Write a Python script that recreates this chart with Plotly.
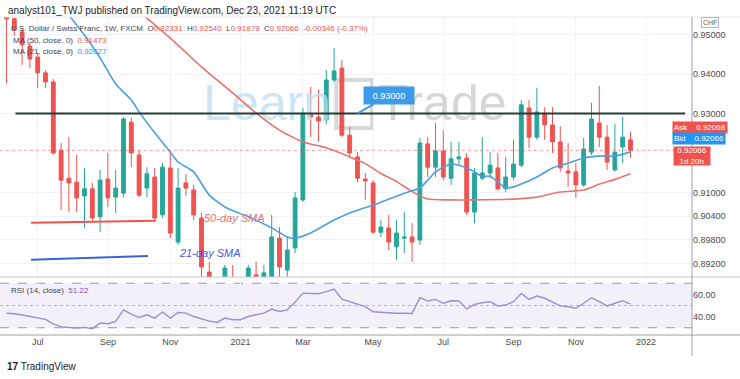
import plotly.graph_objects as go
import pandas as pd

# ---------------- data ----------------
first_week = "2020-06-08"
n_weeks = 81

open_ = [0.9575, 0.9540, 0.9507, 0.9471, 0.9443, 0.9403, 0.9380, 0.9207, 0.9136, 0.9126,
         0.9091, 0.9109, 0.9038, 0.9134, 0.9088, 0.9098, 0.9278, 0.9195, 0.9111, 0.9139,
         0.9043, 0.9162, 0.8974, 0.9124, 0.9106, 0.9035, 0.8898, 0.8865, 0.8832, 0.8878,
         0.8847, 0.8847, 0.8891, 0.8865, 0.8880, 0.8984, 0.8903, 0.8959, 0.9081, 0.9299,
         0.9291, 0.9284, 0.9385, 0.9415, 0.9245, 0.9190, 0.9134, 0.9124, 0.8999, 0.9010,
         0.8962, 0.8984, 0.8987, 0.8979, 0.9223, 0.9164, 0.9205, 0.9136, 0.9185, 0.9187,
         0.9050, 0.9136, 0.9149, 0.9162, 0.9109, 0.9139, 0.9169, 0.9314, 0.9240, 0.9301,
         0.9271, 0.9228, 0.9154, 0.9152, 0.9119, 0.9202, 0.9276, 0.9240, 0.9157, 0.9215,
         0.92331]
high_ = [0.9600, 0.9547, 0.9517, 0.9481, 0.9453, 0.9410, 0.9387, 0.9225, 0.9240, 0.9195,
         0.9162, 0.9124, 0.9157, 0.9200, 0.9157, 0.9291, 0.9289, 0.9207, 0.9164, 0.9162,
         0.9174, 0.9200, 0.9162, 0.9147, 0.9119, 0.9048, 0.8924, 0.8878, 0.8916, 0.8916,
         0.8870, 0.8916, 0.8924, 0.8916, 0.9043, 0.9012, 0.8987, 0.9101, 0.9314, 0.9367,
         0.9360, 0.9410, 0.9466, 0.9436, 0.9266, 0.9202, 0.9149, 0.9131, 0.9030, 0.9043,
         0.9030, 0.9050, 0.9022, 0.9238, 0.9240, 0.9276, 0.9258, 0.9228, 0.9228, 0.9200,
         0.9162, 0.9240, 0.9202, 0.9200, 0.9190, 0.9233, 0.9334, 0.9334, 0.9365, 0.9316,
         0.9316, 0.9268, 0.9225, 0.9174, 0.9238, 0.9327, 0.9370, 0.9271, 0.9273, 0.9291,
         0.92540]
low_ = [0.9377, 0.9496, 0.9423, 0.9415, 0.9365, 0.9365, 0.9195, 0.9055, 0.9050, 0.9050,
        0.9010, 0.9025, 0.8999, 0.9063, 0.9048, 0.9088, 0.9164, 0.9088, 0.9088, 0.9030,
        0.9035, 0.8984, 0.8967, 0.9091, 0.9030, 0.8885, 0.8827, 0.8776, 0.8815, 0.8827,
        0.8802, 0.8827, 0.8852, 0.8840, 0.8865, 0.8873, 0.8878, 0.8946, 0.9076, 0.9240,
        0.9228, 0.9273, 0.9380, 0.9240, 0.9187, 0.9126, 0.9081, 0.8995, 0.8987, 0.8954,
        0.8929, 0.8946, 0.8924, 0.8967, 0.9139, 0.9139, 0.9131, 0.9119, 0.9169, 0.9043,
        0.9022, 0.9131, 0.9136, 0.9104, 0.9101, 0.9131, 0.9164, 0.9213, 0.9233, 0.9233,
        0.9200, 0.9152, 0.9114, 0.9086, 0.9114, 0.9195, 0.9215, 0.9157, 0.9152, 0.9174,
        0.91879]
close_ = [0.9540, 0.9512, 0.9474, 0.9438, 0.9403, 0.9380, 0.9200, 0.9131, 0.9124, 0.9086,
          0.9109, 0.9035, 0.9131, 0.9086, 0.9111, 0.9286, 0.9200, 0.9093, 0.9147, 0.9035,
          0.9164, 0.8997, 0.9111, 0.9111, 0.9043, 0.8911, 0.8865, 0.8827, 0.8908, 0.8847,
          0.8852, 0.8908, 0.8878, 0.8896, 0.8987, 0.8911, 0.8954, 0.9086, 0.9301, 0.9291,
          0.9281, 0.9385, 0.9408, 0.9245, 0.9200, 0.9136, 0.9129, 0.8999, 0.9012, 0.8974,
          0.8997, 0.8987, 0.8974, 0.9225, 0.9164, 0.9205, 0.9139, 0.9185, 0.9190, 0.9050,
          0.9149, 0.9149, 0.9169, 0.9109, 0.9139, 0.9172, 0.9322, 0.9240, 0.9304, 0.9271,
          0.9228, 0.9162, 0.9149, 0.9119, 0.9210, 0.9286, 0.9240, 0.9177, 0.9202, 0.9240,
          0.92066]

rsi_ = [43.0, 42.6, 41.5, 40.1, 39.2, 37.5, 33.5, 30.8, 30.2, 29.8,
        30.3, 29.1, 34.2, 33.6, 35.7, 46.1, 42.3, 39.2, 41.7, 38.7,
        44.1, 38.7, 43.7, 43.2, 40.1, 37.8, 36.0, 34.8, 38.7, 37.2,
        37.2, 40.1, 41.7, 43.2, 46.8, 44.6, 46.1, 53.0, 61.1, 60.9,
        60.5, 62.5, 64.7, 55.7, 53.6, 51.2, 49.0, 44.4, 43.9, 43.0,
        43.0, 43.0, 42.8, 57.0, 54.0, 55.5, 52.0, 54.3, 54.0, 46.9,
        51.0, 52.5, 53.4, 49.6, 50.4, 53.4, 60.9, 55.5, 58.5, 56.5,
        53.4, 49.6, 48.9, 47.5, 52.0, 57.0, 53.4, 49.6, 52.0, 54.3,
        51.22]

sma21_week = [7, 8, 10, 12, 14, 16, 17, 19, 21, 22, 24, 26, 28, 31, 34, 36, 37, 39, 42, 44,
              47, 51, 53, 54, 55, 56, 57, 58, 59, 60, 61, 62, 63, 64, 65, 66, 68, 70, 72,
              74, 76, 78, 80]
sma21_val = [0.9585, 0.9550, 0.9499, 0.9441, 0.9375, 0.9334, 0.9304, 0.9251, 0.9202, 0.9177,
             0.9152, 0.9093, 0.9063, 0.9038, 0.9010, 0.8987, 0.8984, 0.8997, 0.9030, 0.9048,
             0.9068, 0.9098, 0.9111, 0.9131, 0.9152, 0.9164, 0.9172, 0.9169, 0.9162, 0.9152,
             0.9141, 0.9141, 0.9126, 0.9111, 0.9114, 0.9121, 0.9139, 0.9162, 0.9174,
             0.9187, 0.9192, 0.9192, 0.92027]

sma50_week = [16, 18, 21, 25, 29, 32, 35, 38, 41, 44, 46, 48, 50, 52, 54, 57, 60, 65, 68,
              71, 74, 76, 78, 80]
sma50_val = [0.9575, 0.9542, 0.9491, 0.9418, 0.9352, 0.9301, 0.9258, 0.9228, 0.9213, 0.9190,
             0.9173, 0.9148, 0.9128, 0.9102, 0.9083, 0.9081, 0.9081, 0.9083, 0.9088,
             0.9101, 0.9106, 0.9121, 0.9133, 0.91473]

month_tick_dates = ["2020-07-06", "2020-09-07", "2020-11-02", "2021-01-04", "2021-03-01",
                    "2021-05-03", "2021-07-05", "2021-09-06", "2021-11-01", "2022-01-03"]
month_tick_text = ["Jul", "Sep", "Nov", "2021", "Mar", "May", "Jul", "Sep", "Nov", "2022"]
price_ticks = [0.95, 0.94, 0.93, 0.91, 0.904, 0.898, 0.892]
rsi_ticks = [40, 60]

level_price = 0.93
last_price = 0.92066
ask_price = "0.92068"
bid_price = "0.92066"

# ---------------- layout constants ----------------
W, H = 740, 379
PLOT_R = 692            # right edge of panes (px)
MAIN_TOP, MAIN_BOT = 17, 277
RSI_TOP, RSI_BOT = 278, 335
x_range = ["2020-06-02 04:00", "2022-02-13 05:00"]
main_range = [0.88855, 0.95446]
rsi_range = [23.5, 74.7]

FONT = "Liberation Sans, Arial, sans-serif"
GREEN = "#26a69a"
RED = "#ef5350"
BLUE = "#2196f3"


def px(x):
    return x / W


def py(y):
    return 1 - y / H


dates = pd.date_range(first_week, periods=n_weeks, freq="7D")
sma21_dates = [dates[i] for i in sma21_week]
sma50_dates = [dates[i] for i in sma50_week]

fig = go.Figure()

# watermark (drawn first so it stays beneath the candles)
fig.add_trace(go.Scatter(
    x=["2021-01-28", "2021-07-04"], y=[0.9314, 0.9314], mode="text",
    text=["Learn", "Trade"],
    textfont=dict(family=FONT, size=50, color=["rgba(190,222,240,0.75)", "rgba(200,200,200,0.75)"]),
    hoverinfo="skip", showlegend=False, xaxis="x", yaxis="y"))

fig.add_trace(go.Candlestick(
    x=dates, open=open_, high=high_, low=low_, close=close_,
    increasing=dict(line=dict(color=GREEN, width=1), fillcolor=GREEN),
    decreasing=dict(line=dict(color=RED, width=1), fillcolor=RED),
    whiskerwidth=0, showlegend=False, xaxis="x", yaxis="y", hoverinfo="skip"))

fig.add_trace(go.Scatter(x=sma50_dates, y=sma50_val, mode="lines",
                         line=dict(color="#e8736c", width=1.6, shape="spline", smoothing=0.6),
                         showlegend=False, hoverinfo="skip", xaxis="x", yaxis="y"))
fig.add_trace(go.Scatter(x=sma21_dates, y=sma21_val, mode="lines",
                         line=dict(color="#4a9fe0", width=1.6, shape="spline", smoothing=0.6),
                         showlegend=False, hoverinfo="skip", xaxis="x", yaxis="y"))

fig.add_trace(go.Scatter(x=dates, y=rsi_, mode="lines",
                         line=dict(color="#9b8fd4", width=1.4),
                         showlegend=False, hoverinfo="skip", xaxis="x2", yaxis="y2"))

shapes = []
# RSI band and levels
shapes.append(dict(type="rect", xref="x2 domain", yref="y2", x0=0, x1=1, y0=30, y1=70,
                   fillcolor="rgba(126,87,194,0.09)", line=dict(width=0), layer="below"))
for lv, dash, col in [(70, "dash", "#9598a1"), (50, "dot", "#b2b5be"), (30, "dash", "#9598a1")]:
    shapes.append(dict(type="line", xref="x2 domain", yref="y2", x0=0, x1=1, y0=lv, y1=lv,
                       line=dict(color=col, width=1, dash=dash), layer="below"))

# Learn2Trade logo box
shapes.append(dict(type="rect", xref="x", yref="y", x0="2021-03-31", x1="2021-05-02",
                   y0=0.9263, y1=0.9385, line=dict(color="rgba(200,200,200,0.7)", width=4),
                   layer="below"))

# current price line
shapes.append(dict(type="line", xref="x domain", yref="y", x0=0, x1=1, y0=last_price, y1=last_price,
                   line=dict(color="rgba(239,83,80,0.55)", width=1, dash="dot")))
# 0.93 level line
shapes.append(dict(type="line", xref="x", yref="y", x0="2020-06-16", x1="2022-02-07",
                   y0=level_price, y1=level_price, line=dict(color="#243d36", width=2)))
# hand-drawn annotation lines
shapes.append(dict(type="line", xref="x", yref="y", x0="2020-06-30", x1="2020-10-20",
                   y0=0.9023, y1=0.9028, line=dict(color=RED, width=2)))
shapes.append(dict(type="line", xref="x", yref="y", x0="2020-06-30", x1="2020-10-13",
                   y0=0.8929, y1=0.8939, line=dict(color="#3b62d8", width=2)))

# pane borders
for yy, col in [(MAIN_TOP, "#e6e8ee"), (MAIN_BOT, "#c3c6ce"), (RSI_BOT, "#9da0a8")]:
    shapes.append(dict(type="line", xref="paper", yref="paper", x0=0, x1=1, y0=py(yy), y1=py(yy),
                       line=dict(color=col, width=1)))
shapes.append(dict(type="line", xref="paper", yref="paper", x0=px(PLOT_R), x1=px(PLOT_R),
                   y0=py(MAIN_TOP), y1=py(356), line=dict(color="#9da0a8", width=1)))

ann = []
small = dict(family=FONT, size=8, color="#434651")
ann.append(dict(xref="paper", yref="paper", x=px(6), y=py(10), xanchor="left", yanchor="middle",
                text="analyst101_TWJ published on TradingView.com, Dec 23, 2021 11:19 UTC",
                showarrow=False, font=dict(family=FONT, size=10, color="#1e222d")))
ann.append(dict(xref="paper", yref="paper", x=px(9), y=py(29), xanchor="left", yanchor="middle",
                text=("U.S. Dollar / Swiss Franc, 1W, FXCM  "
                      f"O<span style='color:{RED}'>0.92331</span>  H<span style='color:{RED}'>0.92540</span>  "
                      f"L<span style='color:{RED}'>0.91879</span>  C<span style='color:{RED}'>0.92066</span>  "
                      f"<span style='color:{RED}'>-0.00346 (-0.37%)</span>"),
                showarrow=False, font=small))
ann.append(dict(xref="paper", yref="paper", x=px(11), y=py(41), xanchor="left", yanchor="middle",
                text=f"MA (50, close, 0)  <span style='color:{RED}'>0.91473</span>",
                showarrow=False, font=small))
ann.append(dict(xref="paper", yref="paper", x=px(11), y=py(52), xanchor="left", yanchor="middle",
                text=f"MA (21, close, 0)  <span style='color:{BLUE}'>0.92027</span>",
                showarrow=False, font=small))
ann.append(dict(xref="paper", yref="paper", x=px(9), y=py(290), xanchor="left", yanchor="middle",
                text="RSI (14, close)  <span style='color:#7e57c2'>51.22</span>",
                showarrow=False, font=small))
# SMA labels
ann.append(dict(xref="x", yref="y", x="2020-12-30", y=0.9036, text="<i>50-day SMA</i>",
                showarrow=False, font=dict(family=FONT, size=11, color="#e8736c")))
ann.append(dict(xref="x", yref="y", x="2020-12-08", y=0.8947, text="<i>21-day SMA</i>",
                showarrow=False, font=dict(family=FONT, size=11, color="#3f5bd6")))
# 0.93000 callout
ann.append(dict(xref="x", yref="y", x="2021-04-19", y=level_price, ax=32, ay=-18,
                text="0.93000", showarrow=True, arrowhead=0, arrowwidth=2, arrowcolor="#3d9be9",
                bgcolor="#3d9be9", borderpad=3, width=44, height=11,
                font=dict(family=FONT, size=9, color="white")))
# right scale labels
ann.append(dict(xref="paper", yref="paper", x=px(710), y=py(22), xanchor="center", yanchor="middle",
                text="CHF", showarrow=False,
                bordercolor="#b2b5be", borderwidth=1, borderpad=1, bgcolor="white",
                font=dict(family=FONT, size=7, color="#555")))
for label, value, color, yc in [("Ask", ask_price, RED, 127.5), ("Bid", bid_price, BLUE, 138.5)]:
    ann.append(dict(xref="paper", yref="paper", x=px(672), y=py(yc), xanchor="left",
                    yanchor="middle", text=f"{label}&nbsp;&nbsp;&nbsp;&nbsp;{value}",
                    showarrow=False, align="left", bgcolor=color, borderpad=1,
                    font=dict(family=FONT, size=8, color="white")))
ann.append(dict(xref="paper", yref="paper", x=px(711), y=py(155.5), text="0.92066<br>1d 20h",
                showarrow=False, bgcolor=RED, width=36, height=18, borderpad=0,
                font=dict(family=FONT, size=8, color="white")))
# footer logo
ann.append(dict(xref="paper", yref="paper", x=px(5), y=py(366), xanchor="left", yanchor="middle",
                text="<b>17</b> TradingView", showarrow=False,
                font=dict(family=FONT, size=10, color="#1e222d")))

axis_common = dict(type="date", range=x_range, tickvals=month_tick_dates, ticktext=month_tick_text,
                   showgrid=True, gridcolor="#f0f3fa", gridwidth=1, zeroline=False, showline=False,
                   ticks="", automargin=False, fixedrange=True)

fig.update_layout(
    width=W, height=H, autosize=False,
    margin=dict(l=0, r=0, t=0, b=0, pad=0),
    paper_bgcolor="white", plot_bgcolor="white",
    showlegend=False, hovermode=False,
    font=dict(family=FONT, size=9, color="#4a4a4a"),
    xaxis=dict(domain=[0, px(PLOT_R)], anchor="y", showticklabels=False,
               rangeslider=dict(visible=False), **axis_common),
    yaxis=dict(domain=[py(MAIN_BOT), py(MAIN_TOP)], anchor="x", side="right", range=main_range,
               tickvals=price_ticks, ticktext=[f"{v:.5f}" for v in price_ticks],
               showgrid=True, gridcolor="#f0f3fa", zeroline=False, showline=False, ticks="",
               automargin=False, fixedrange=True, tickfont=dict(size=9, color="#4a4a4a")),
    xaxis2=dict(domain=[0, px(PLOT_R)], anchor="y2", matches="x", showticklabels=True,
                tickfont=dict(size=9, color="#4a4a4a"), **axis_common),
    yaxis2=dict(domain=[py(RSI_BOT), py(RSI_TOP)], anchor="x2", side="right", range=rsi_range,
                tickvals=rsi_ticks, ticktext=[f"{v:.2f}" for v in rsi_ticks],
                showgrid=False, zeroline=False, showline=False, ticks="", automargin=False,
                fixedrange=True, tickfont=dict(size=9, color="#4a4a4a")),
    shapes=shapes, annotations=ann,
)

fig.write_html("out.html", config={"displayModeBar": False, "staticPlot": True},
               post_script="document.body.style.margin='0';")
